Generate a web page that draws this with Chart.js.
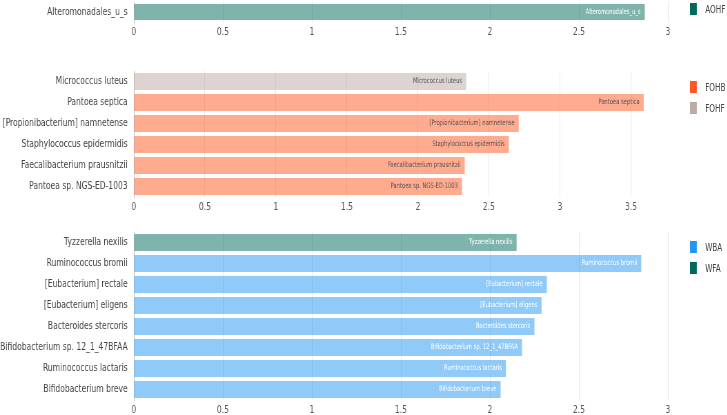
<!DOCTYPE html>
<html><head><meta charset="utf-8">
<script src="https://cdn.jsdelivr.net/npm/chart.js@4/dist/chart.umd.min.js"></script>
<style>
html,body{margin:0;padding:0;background:#fff;width:727px;height:415px;overflow:hidden;position:relative;font-family:"DejaVu Sans",sans-serif;}
#wrap{position:absolute;left:0;top:0;width:1054px;height:415px;transform:scaleX(0.69);transform-origin:0 0;}
canvas{position:absolute;left:0;}
.leg{position:absolute;left:1000px;font-size:10.5px;color:#444;}
.leg div{height:21px;display:flex;align-items:center;}
.leg span.sq{display:inline-block;width:10px;height:12px;margin-right:12px;}
</style></head><body>
<div id="wrap">
<canvas id="c1" width="1054" height="42" style="top:0"></canvas>
<canvas id="c2" width="1054" height="157" style="top:60px"></canvas>
<canvas id="c3" width="1054" height="200" style="top:220px"></canvas>
<div class="leg" style="top:-2px"><div><span class="sq" style="background:#00695c"></span>AOHF</div></div>
<div class="leg" style="top:76px"><div><span class="sq" style="background:#ff5722"></span>FOHB</div><div><span class="sq" style="background:#bcaaa4"></span>FOHF</div></div>
<div class="leg" style="top:236px"><div><span class="sq" style="background:#2196f3"></span>WBA</div><div><span class="sq" style="background:#00695c"></span>WFA</div></div>
</div>
<script>
// ---- data ----
const aohfCats = ['Alteromonadales_u_s'];
const aohfVals = [2.87];

const fohCats = ['Micrococcus luteus','Pantoea septica','[Propionibacterium] namnetense','Staphylococcus epidermidis','Faecalibacterium prausnitzii','Pantoea sp. NGS-ED-1003'];
const fohbVals = [null,3.59,2.71,2.64,2.33,2.31];
const fohfVals = [2.34,null,null,null,null,null];

const wCats = ['Tyzzerella nexilis','Ruminococcus bromii','[Eubacterium] rectale','[Eubacterium] eligens','Bacteroides stercoris','Bifidobacterium sp. 12_1_47BFAA','Ruminococcus lactaris','Bifidobacterium breve'];
const wbaVals = [null,2.85,2.32,2.29,2.25,2.18,2.09,2.06];
const wfaVals = [2.15,null,null,null,null,null,null,null];

const xMax1 = 3, xMax2 = 3.6, xMax3 = 3;
const tickStep = 0.5;

const FONT = '"DejaVu Sans",sans-serif';

const inLabel = {
  id:'inLabel',
  afterDatasetsDraw(chart){
    const ctx = chart.ctx;
    ctx.save();
    ctx.font = '7.5px ' + FONT;
    ctx.textAlign = 'right';
    ctx.textBaseline = 'middle';
    chart.data.datasets.forEach((ds,di)=>{
      const meta = chart.getDatasetMeta(di);
      meta.data.forEach((bar,i)=>{
        if (ds.data[i]==null) return;
        ctx.fillStyle = ds.labelColor;
        ctx.fillText(chart.data.labels[i], bar.x - 6, bar.y);
      });
    });
    ctx.restore();
  }
};

function make(id, cats, datasets, xMax, padTop, padRight){
  new Chart(document.getElementById(id), {
    type:'bar',
    data:{labels:cats, datasets:datasets.map(d=>({
      label:d.label, data:d.data, backgroundColor:d.color, labelColor:d.text,
      borderWidth:0, categoryPercentage:1, barPercentage:0.8, grouped:false
    }))},
    options:{
      indexAxis:'y', responsive:false, animation:false,
      layout:{padding:{top:padTop, right:padRight, left:0, bottom:0}},
      plugins:{legend:{display:false}, tooltip:{enabled:false}},
      scales:{
        x:{min:0, max:xMax,
           afterBuildTicks(s){
             const t = [];
             for (let k = 0; k * tickStep <= xMax + 1e-9; k++) t.push({value: k * tickStep});
             s.ticks = t;
           },
           ticks:{padding:4, color:'#555', font:{family:FONT,size:11},
                  callback:v => String(Number(v.toFixed(2)))},
           grid:{color:'#e8e8e8', drawTicks:false}, border:{display:false},
           afterFit(s){ s.height = 20; s.paddingLeft = 0; s.paddingRight = 0; }},
        y:{ticks:{padding:9, color:'#444', font:{family:FONT,size:11}},
           grid:{display:false, drawTicks:false}, border:{display:true, color:'#bbb'},
           afterFit(s){ s.width = 194; s.paddingTop = 0; s.paddingBottom = 0; }}
      }
    },
    plugins:[inLabel]
  });
}

make('c1', aohfCats, [
  {label:'AOHF', data:aohfVals, color:'rgba(0,105,92,0.5)', text:'#fff'}
], xMax1, 2, 86);

make('c2', fohCats, [
  {label:'FOHB', data:fohbVals, color:'rgba(255,87,34,0.5)', text:'#555'},
  {label:'FOHF', data:fohfVals, color:'rgba(188,170,164,0.5)', text:'#555'}
], xMax2, 11, 119);

make('c3', wCats, [
  {label:'WBA', data:wbaVals, color:'rgba(33,150,243,0.5)', text:'#fff'},
  {label:'WFA', data:wfaVals, color:'rgba(0,105,92,0.5)', text:'#fff'}
], xMax3, 12, 86);
</script>
</body></html>
